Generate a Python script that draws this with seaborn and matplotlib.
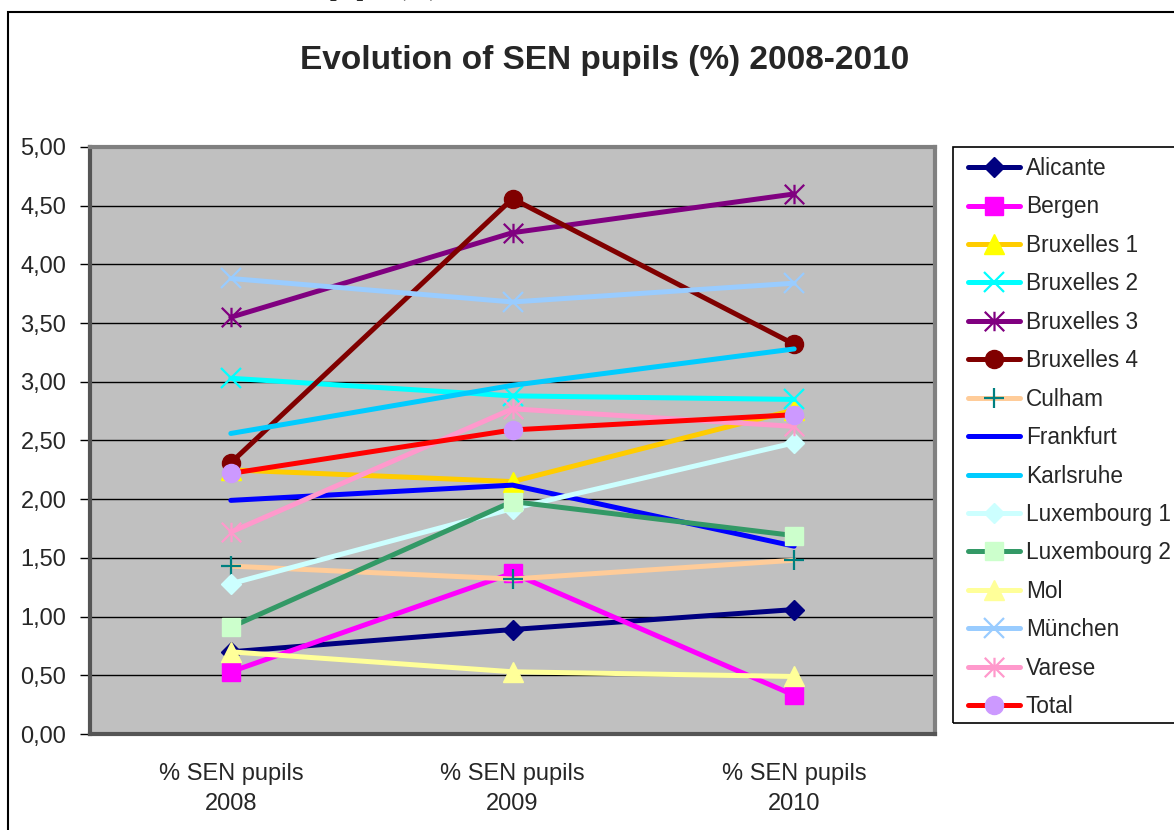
import numpy as np
import pandas as pd
import matplotlib
matplotlib.use("Agg")
import matplotlib.pyplot as plt
import seaborn as sns
from matplotlib.patches import Rectangle
from matplotlib.path import Path
from matplotlib.ticker import FuncFormatter, MultipleLocator

# -----------------------------
# DATA
# -----------------------------
CATEGORIES = ["% SEN pupils\n2008", "% SEN pupils\n2009", "% SEN pupils\n2010"]

SCHOOLS = ["Alicante", "Bergen", "Bruxelles 1", "Bruxelles 2", "Bruxelles 3",
           "Bruxelles 4", "Culham", "Frankfurt", "Karlsruhe", "Luxembourg 1",
           "Luxembourg 2", "Mol", "München", "Varese", "Total"]

SEN_2008 = [0.70, 0.53, 2.25, 3.03, 3.55, 2.31, 1.43, 1.99, 2.56, 1.28, 0.91, 0.70, 3.88, 1.72, 2.22]
SEN_2009 = [0.89, 1.37, 2.15, 2.88, 4.27, 4.56, 1.32, 2.12, 2.97, 1.92, 1.98, 0.53, 3.68, 2.77, 2.59]
SEN_2010 = [1.06, 0.33, 2.76, 2.85, 4.60, 3.32, 1.48, 1.60, 3.28, 2.48, 1.69, 0.49, 3.84, 2.62, 2.72]

# -----------------------------
# STYLES (Excel-like)
# -----------------------------
STAR = Path([(-1, -1), (1, 1), (-1, 1), (1, -1), (0, -1), (0, 1)],
            [Path.MOVETO, Path.LINETO, Path.MOVETO, Path.LINETO, Path.MOVETO, Path.LINETO])

# name: (line colour, marker, marker colour, marker size, filled)
STYLES = {
    "Alicante":     ("#000080", "D", "#000080", 10, True),
    "Bergen":       ("#FF00FF", "s", "#FF00FF", 13, True),
    "Bruxelles 1":  ("#FFCC00", "^", "#FFFF00", 14, True),
    "Bruxelles 2":  ("#00FFFF", "x", "#00FFFF", 14, False),
    "Bruxelles 3":  ("#800080", STAR, "#800080", 14, False),
    "Bruxelles 4":  ("#800000", "o", "#800000", 13, True),
    "Culham":       ("#FFCC99", "+", "#008080", 14, False),
    "Frankfurt":    ("#0000FF", None, "#0000FF", 0, True),
    "Karlsruhe":    ("#00CCFF", None, "#00CCFF", 0, True),
    "Luxembourg 1": ("#CCFFFF", "D", "#CCFFFF", 10, True),
    "Luxembourg 2": ("#339966", "s", "#CCFFCC", 13, True),
    "Mol":          ("#FFFF99", "^", "#FFFF99", 14, True),
    "München":      ("#99CCFF", "x", "#99CCFF", 14, False),
    "Varese":       ("#FF99CC", STAR, "#FF99CC", 14, False),
    "Total":        ("#FF0000", "o", "#CC99FF", 13, True),
}

sns.set_style("white")
plt.rcParams["font.family"] = ["Liberation Sans", "DejaVu Sans"]

W, H = 1174, 830


def fx(px):
    return px / W


def fy(py):
    return 1 - py / H


def build_frame():
    rows = []
    for i, school in enumerate(SCHOOLS):
        for pos, vals in enumerate([SEN_2008, SEN_2009, SEN_2010]):
            rows.append({"School": school, "pos": pos, "value": vals[i]})
    return pd.DataFrame(rows)


def main():
    df = build_frame()

    fig = plt.figure(figsize=(W / 100, H / 100), dpi=100)
    fig.patch.set_facecolor("white")

    ax = fig.add_axes([fx(90), fy(734), fx(935) - fx(90), fy(147) - fy(734)])
    ax.set_facecolor("#C0C0C0")

    for school in SCHOOLS:
        sub = df[df["School"] == school]
        line_c, marker, mcol, msize, filled = STYLES[school]
        kws = dict(color=line_c, linewidth=3.6, label=school, ax=ax)
        if marker is not None:
            kws.update(marker=marker, markersize=msize, markeredgecolor=mcol,
                       markerfacecolor=mcol if filled else "none",
                       markeredgewidth=1.0 if filled else 1.6)
        sns.lineplot(data=sub, x="pos", y="value", **kws)

    # axes
    ax.set_xlim(-0.5, 2.5)
    ax.set_ylim(0, 5)
    ax.set_xlabel("")
    ax.set_ylabel("")
    ax.yaxis.set_major_locator(MultipleLocator(0.5))
    ax.yaxis.set_major_formatter(FuncFormatter(lambda v, _: f"{v:.2f}".replace(".", ",")))
    ax.set_xticks(range(len(CATEGORIES)))
    ax.set_xticklabels(CATEGORIES, fontsize=17, linespacing=1.45)
    ax.set_xticks([-0.5, 0.5, 1.5, 2.5], minor=True)
    ax.tick_params(axis="x", which="major", length=0, pad=21)
    ax.tick_params(axis="x", which="minor", length=7, width=1, color="black", direction="out")
    ax.tick_params(axis="y", which="major", length=7, width=1, color="black",
                   direction="out", labelsize=17, pad=10, left=True)
    ax.yaxis.grid(True, color="black", linewidth=1)
    ax.xaxis.grid(False)
    ax.set_axisbelow(True)

    for side in ["top", "right"]:
        ax.spines[side].set_color("#808080")
        ax.spines[side].set_linewidth(3)
    for side in ["left", "bottom"]:
        ax.spines[side].set_color("#555555")
        ax.spines[side].set_linewidth(3)

    # legend
    ax.legend(loc="upper left", bbox_to_anchor=(fx(968), fy(157)),
              bbox_transform=fig.transFigure, frameon=False, fontsize=16.3,
              handlelength=2.3, handletextpad=0.25, labelspacing=0.682,
              borderpad=0, borderaxespad=0)
    fig.add_artist(Rectangle((fx(953), fy(723)), 0.5, fy(147) - fy(723),
                             transform=fig.transFigure, fill=False,
                             edgecolor="black", linewidth=1.2))

    # title
    fig.text(fx(605), fy(60), "Evolution of SEN pupils (%) 2008-2010",
             ha="center", va="center", fontsize=24, fontweight="bold")

    # outer chart frame (cropped on the right and bottom)
    fig.add_artist(Rectangle((fx(8), -0.1), 1.0, fy(12) + 0.1,
                             transform=fig.transFigure, fill=False,
                             edgecolor="black", linewidth=1.5))

    # cut-off line of document text above the chart
    fig.text(fx(330), 1 + 4 / H, "pupils (%)", ha="left", va="baseline",
             fontsize=17, fontweight="bold", family=["Liberation Serif", "DejaVu Serif"])

    fig.savefig("out.png", dpi=100, facecolor="white")
    plt.close(fig)


if __name__ == "__main__":
    main()
